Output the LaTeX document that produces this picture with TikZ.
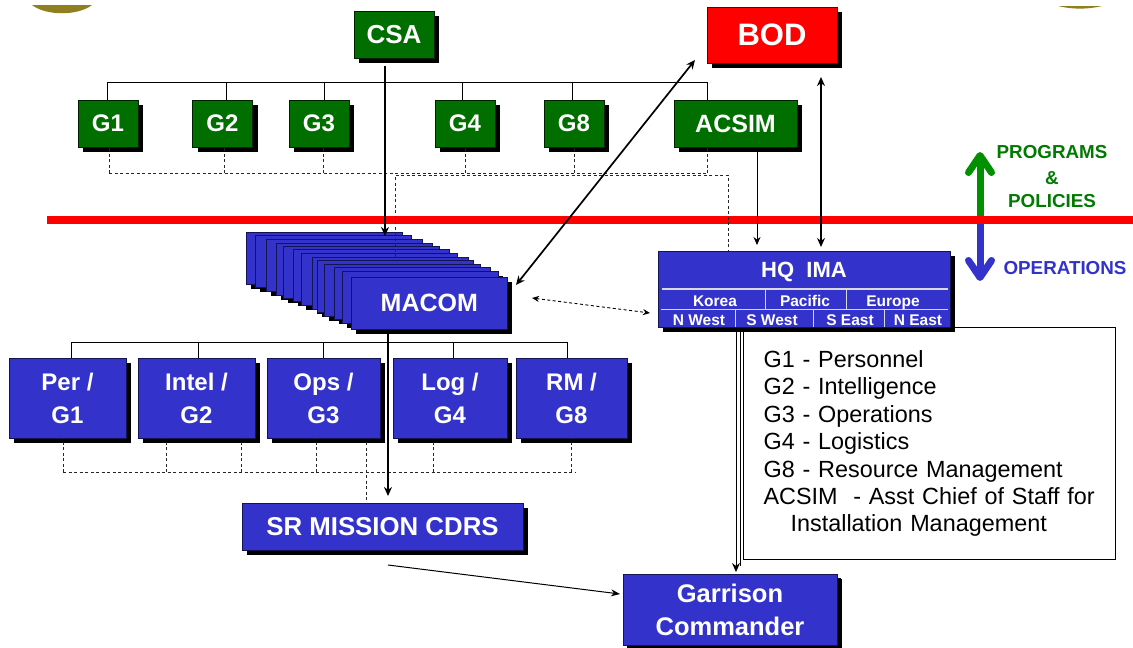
\documentclass[tikz,border=0pt]{standalone}
\usepackage{fontspec}
\setmainfont{Liberation Sans}
\usepackage{xcolor}
\usetikzlibrary{positioning,shadows,arrows.meta}
\definecolor{boxblue}{HTML}{3333CC}
\definecolor{boxgreen}{HTML}{006F00}
\definecolor{arrowgreen}{HTML}{009000}
\definecolor{seamgold}{HTML}{8F7F1E}
\newcommand{\fsz}[2]{\fontsize{#1}{#2}\selectfont}
\tikzset{
  orgbox/.style={rectangle, inner sep=0pt, align=center, text=white, font=\bfseries\fsz{24}{33}},
  shad/.style={drop shadow={shadow xshift=#1, shadow yshift=-#1, fill=black, opacity=1}},
  greenbox/.style={orgbox, fill=boxgreen, draw=black!70!boxgreen, line width=0.6pt, shad=5pt},
  bluebox/.style={orgbox, fill=boxblue, draw=black!60!boxblue, line width=0.6pt, shad=5pt},
  thinline/.style={draw=black, line width=0.7pt},
  dashline/.style={draw=black!85, line width=0.9pt, dash pattern=on 3pt off 2.5pt},
  mainarrow/.style={line width=1.7pt, -{Stealth[length=9pt,width=8pt]}},
  tinylabel/.style={text=white, inner sep=0pt, anchor=base, font=\bfseries\fsz{15.5}{15.5}},
  sidelabel/.style={inner sep=0pt, font=\bfseries\fsz{18.8}{18.8}},
  bigarrow/.style={line width=7pt, -{Straight Barb[length=17pt,width=23pt,round]}}
}
\begin{document}
\begin{tikzpicture}[x=1pt, y=-1pt]
  \useasboundingbox (0,0) rectangle (1133,648);

  % Seal edges at the top
  \fill[seamgold] (32,5) .. controls (46,16) and (78,16) .. (92,5) -- cycle;
  \fill[seamgold] (1058,6) .. controls (1072,9.5) and (1088,9.5) .. (1102,6) -- cycle;

  % Red line
  \coordinate (linel) at (47,220);
  \coordinate (liner) at (1133,220);
  \draw[red, line width=8pt] (linel) -- (liner);

  % Green boxes
  \node[greenbox, minimum width=80pt, minimum height=47pt, font=\bfseries\fsz{26}{26}] (csa) at (394,34.5) {CSA};
  \node[greenbox, minimum width=60pt, minimum height=47pt] (g1) at (108,123.5) {G1};
  \node[greenbox, minimum width=60pt, minimum height=47pt] (g2) at (222.5,123.5) {G2};
  \node[greenbox, minimum width=60pt, minimum height=47pt] (g3) at (319,123.5) {G3};
  \node[greenbox, minimum width=60pt, minimum height=47pt] (g4) at (465,123.5) {G4};
  \node[greenbox, minimum width=60pt, minimum height=47pt] (g8) at (574,123.5) {G8};
  \node[greenbox, minimum width=123pt, minimum height=47pt, font=\bfseries\fsz{25}{25}] (acsim) at (735.5,123.5) {ACSIM};

  % BOD
  \node[orgbox, fill=red, draw=black!60!red, line width=0.6pt, shad=5pt, minimum width=130pt, minimum height=56pt, font=\bfseries\fsz{31}{31}] (bod) at (772,35) {BOD};

  % Stack behind MACOM
  \foreach \x/\y in {246/232,255/235,266/239,276/243,283/246,293/249,301/253,312/257,317/260,324/264,334/267,342/271}
    \node[bluebox, anchor=north west, minimum width=156pt, minimum height=52pt] (stack\x) at (\x,\y) {};
  \node[bluebox, anchor=north west, minimum width=156pt, minimum height=52pt, font=\bfseries\fsz{25}{25}] (macom) at (351,277) {MACOM};

  % Blue boxes
  \node[bluebox, minimum width=117pt, minimum height=80pt] (per) at (67.5,398) {Per /\\G1};
  \node[bluebox, minimum width=117pt, minimum height=80pt] (intel) at (196.5,398) {Intel /\\G2};
  \node[bluebox, minimum width=113pt, minimum height=80pt] (ops) at (323.5,398) {Ops /\\G3};
  \node[bluebox, minimum width=114pt, minimum height=80pt] (log) at (450,398) {Log /\\G4};
  \node[bluebox, minimum width=111pt, minimum height=80pt] (rm) at (571.5,398) {RM /\\G8};
  \node[bluebox, minimum width=281pt, minimum height=47pt, font=\bfseries\fsz{25.8}{25.8}] (srm) at (382.5,526.5) {SR MISSION CDRS};
  \node[bluebox, shad=3.5pt, minimum width=214pt, minimum height=71pt, font=\bfseries\fsz{25.5}{33}] (garrison) at (730,609.5) {Garrison\\Commander};

  % Legend
  \node[draw=black, fill=white, line width=1.2pt, anchor=north west, minimum width=372pt, minimum height=232pt, inner xsep=20pt, inner ysep=0pt, text width=332pt, align=left, font=\fsz{23.4}{27.4}] (legend) at (743,327) {G1 - Personnel\\G2 - Intelligence\\G3 - Operations\\G4 - Logistics\\G8 - Resource Management\\ACSIM\ \ - Asst Chief of Staff for\\\hspace*{27pt}Installation Management\\[4pt]};

  % HQ IMA
  \node[bluebox, anchor=north west, minimum width=292pt, minimum height=76pt] (hq) at (658,251) {};
  \node[text=white, inner sep=0pt, font=\bfseries\fsz{22}{22}] (hqname) at (804,272) {HQ\ \ IMA};
  \draw[black!15!white, line width=1.1pt] (662,289) -- (948,289);
  \draw[black!15!white, line width=0.9pt] (661,309) -- (948,309);
  \foreach \x in {765,846}
    \draw[black!15!white, line width=0.7pt] (\x,289) -- (\x,309);
  \foreach \x in {735,813,884}
    \draw[black!15!white, line width=0.7pt] (\x,309) -- (\x,327);
  \node[tinylabel] (korea) at (715,306.5) {Korea};
  \node[tinylabel] (pacific) at (805,306.5) {Pacific};
  \node[tinylabel] (europe) at (893,306.5) {Europe};
  \node[tinylabel] (nwest) at (699,325) {N West};
  \node[tinylabel] (swest) at (772,325) {S West};
  \node[tinylabel] (seast) at (850,325) {S East};
  \node[tinylabel] (neast) at (918,325) {N East};

  % Solid lines to the green boxes
  \foreach \n/\x in {g1/107,g2/226,g3/324,g4/462,g8/572,acsim/707} {
    \coordinate (bus\n) at (\x,82);
    \draw[thinline] (bus\n) -- (bus\n |- \n.north);
  }
  \draw[thinline] (busg1) -- (busacsim);

  % Solid lines to the blue boxes
  \foreach \n/\x in {per/71,intel/198,ops/323,log/453,rm/567} {
    \coordinate (low\n) at (\x,342);
    \draw[thinline] (low\n) -- (low\n |- \n.north);
  }
  \draw[thinline] (lowper) -- (lowrm);

  % Dashed lines under the green boxes
  \foreach \n/\x in {g1/109,g2/224,g3/323,g4/465,g8/574,acsim/707} {
    \coordinate (dash\n) at (\x,173);
    \draw[dashline] (dash\n) -- (dash\n |- \n.south);
  }
  \draw[dashline] (dashg1) -- (dashacsim);
  \coordinate (dashl) at (395,175);
  \coordinate (dashr) at (728,175);
  \draw[dashline] (stack312.north -| dashl) -- (dashl) -- (dashr) -- (dashr |- hq.north);

  % Dashed lines under the blue boxes
  \foreach \n/\x in {per/63,intel/166,intel/241,ops/316,log/433,rm/571} {
    \coordinate (drop) at (\x,472);
    \draw[dashline] (drop) -- (drop |- \n.south);
  }
  \coordinate (dashll) at (63,472);
  \coordinate (dashlr) at (575,472);
  \draw[dashline] (dashll) -- (dashlr);
  \coordinate (dashsr) at (366,442);
  \draw[dashline] (dashsr) -- (dashsr |- srm.north);

  % Arrows
  \coordinate (csastart) at (385,66);
  \coordinate (csaend) at (385,236);
  \draw[mainarrow] (csastart) -- (csaend);
  \coordinate (macomend) at (388,496);
  \draw[mainarrow] (macomend |- macom.south) -- (macomend);
  \coordinate (bodl) at (695,60);
  \coordinate (macomr) at (516,285);
  \draw[mainarrow, {Stealth[length=9pt,width=8pt]}-{Stealth[length=9pt,width=8pt]}] (macomr) -- (bodl);
  \coordinate (bodb) at (821,77);
  \coordinate (hqt) at (821,247);
  \draw[line width=1.4pt, {Stealth[length=9pt,width=8pt]}-{Stealth[length=9pt,width=8pt]}] (bodb) -- (hqt);
  \coordinate (hqend) at (757,245);
  \draw[line width=0.8pt, -{Stealth[length=8pt,width=7pt]}] (hqend |- acsim.south) -- (hqend);
  \coordinate (macdash) at (532,298);
  \coordinate (hqdash) at (650,313);
  \draw[line width=0.9pt, dash pattern=on 3pt off 2.5pt, {Stealth[length=7pt,width=6pt]}-{Stealth[length=7pt,width=6pt]}] (macdash) -- (hqdash);
  \coordinate (srstart) at (388,565);
  \coordinate (garend) at (620,594);
  \draw[line width=1pt, -{Stealth[length=9pt,width=7pt]}] (srstart) -- (garend);
  \coordinate (garl) at (736,572);
  \coordinate (garr) at (740,566);
  \draw[line width=0.9pt, -{Stealth[length=9pt,width=8pt]}] (garl |- hq.south) -- (garl);
  \draw[line width=0.9pt] (garr |- hq.south) -- (garr);

  % Programs and operations
  \coordinate (mid) at (980,220);
  \coordinate (uptip) at (980,152);
  \coordinate (downtip) at (980,281);
  \draw[bigarrow, arrowgreen] (mid) -- (uptip);
  \draw[bigarrow, boxblue] (mid) -- (downtip);
  \draw[red, line width=8pt] (970,220) -- (990,220);
  \node[sidelabel, text=arrowgreen!85!black] (programs) at (1052,152) {PROGRAMS};
  \node[sidelabel, text=arrowgreen!85!black] (amp) at (1052,178) {\&};
  \node[sidelabel, text=arrowgreen!85!black] (policies) at (1052,201) {POLICIES};
  \node[sidelabel, text=boxblue] (operations) at (1065,268) {OPERATIONS};
\end{tikzpicture}
\end{document}
